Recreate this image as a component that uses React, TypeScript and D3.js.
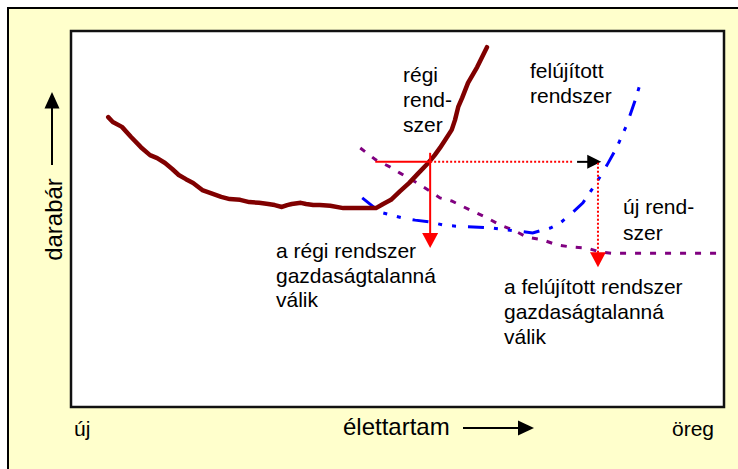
import * as d3 from 'd3'

// élettartam (x) / darabár (y), both on a 0..100 conceptual scale
const oldSystem: [number, number][] = [
  [5.7, 77.1], [6.4, 75.8], [7.8, 74.5], [9.2, 71.8], [10.7, 69.1], [12.1, 67.0],
  [13.2, 66.2], [14.4, 64.9], [15.5, 63.3], [16.5, 61.7], [17.6, 60.6], [18.7, 59.6],
  [20.1, 57.7], [21.4, 56.9], [23.0, 55.9], [24.3, 55.3], [25.9, 55.1], [27.3, 54.5],
  [28.8, 54.3], [30.2, 54.0], [31.2, 53.7], [32.3, 53.2], [33.1, 53.7], [33.8, 54.0],
  [35.2, 54.3], [36.0, 54.0], [37.1, 53.7], [38.1, 53.7], [39.7, 53.5], [41.7, 52.9],
  [43.5, 52.9], [46.7, 52.9], [47.8, 54.0], [49.0, 55.1], [50.4, 57.4], [51.8, 59.6],
  [53.1, 62.0], [54.7, 64.9], [55.7, 67.0], [56.5, 68.9], [57.3, 71.0], [58.3, 73.7],
  [58.8, 76.3], [59.3, 79.8], [59.9, 82.2], [60.8, 86.2], [62.2, 90.4], [63.7, 95.7],
]

const renewedSystem: [number, number][] = [
  [44.6, 55.6], [46.7, 52.7], [47.8, 51.6], [50.7, 50.3], [52.7, 49.7], [55.0, 49.2],
  [57.0, 48.4], [59.6, 48.0], [61.6, 47.9], [64.5, 47.6], [66.2, 47.2], [68.8, 46.7],
  [70.7, 46.3], [73.4, 47.6], [74.9, 48.9], [76.4, 51.1], [78.4, 54.3], [79.9, 58.2],
  [81.0, 61.2], [82.1, 64.4], [83.6, 69.1], [85.1, 75.0], [86.4, 81.6], [87.1, 85.6],
]

const newSystem: [number, number][] = [
  [44.3, 68.9], [46.7, 65.7], [48.9, 63.8], [50.4, 62.2], [53.0, 59.6], [54.7, 57.7],
  [56.5, 55.6], [58.3, 54.8], [61.1, 52.4], [63.7, 50.3], [65.7, 48.4], [67.7, 47.1],
  [69.8, 45.2], [72.3, 44.4], [74.4, 43.1], [76.4, 42.6], [79.2, 42.2], [81.0, 41.2],
  [82.8, 40.9], [86.7, 40.9], [100, 40.9],
]

// guide lines: where the old system becomes uneconomic, and where the renewed one does
const oldLimit: [number, number] = [55.0, 65.2]
const oldGuideStartX = 46.6
const oldDropY = 42.3
const oldGuideTopY = 67.6
const renewedShiftX = [77.5, 81.2]
const renewedLimitX = 80.7
const renewedDropY = 37.2

const W = 738
const H = 469
const plot = { left: 71, top: 31, right: 724, bottom: 407 }
const font = "Arial, 'Liberation Sans', sans-serif"

export default function App() {
  const x = d3.scaleLinear().domain([0, 100]).range([plot.left, plot.right])
  const y = d3.scaleLinear().domain([0, 100]).range([plot.bottom, plot.top])
  const line = d3.line<[number, number]>().x(d => x(d[0])).y(d => y(d[1]))

  const tri = (tx: number, ty: number, dir: 'down' | 'right', len = 15, half = 8) =>
    dir === 'down'
      ? `M${tx - half},${ty - len}L${tx + half},${ty - len}L${tx},${ty}Z`
      : `M${tx - len},${ty - half}L${tx - len},${ty + half}L${tx},${ty}Z`

  const ox = x(oldLimit[0])
  const oy = y(oldLimit[1])
  const rx = x(renewedLimitX)

  return (
    <svg width={W} height={H} style={{ position: 'fixed', left: 0, top: 0, background: '#fff' }}>
      <rect x={8} y={8} width={W} height={H} fill="#FFFFCC" stroke="#000" strokeWidth={2} />
      <rect x={plot.left} y={plot.top} width={plot.right - plot.left} height={plot.bottom - plot.top}
        fill="#fff" stroke="#111" strokeWidth={2.5} />

      {/* curves */}
      <path d={line(newSystem) ?? ''} fill="none" stroke="#800080" strokeWidth={3} strokeDasharray="6,9" />
      <path d={line(renewedSystem) ?? ''} fill="none" stroke="#0000FF" strokeWidth={3}
        strokeDasharray="16,10,4,10,4,12" />
      <path d={line(oldSystem) ?? ''} fill="none" stroke="#800000" strokeWidth={4.5}
        strokeLinejoin="round" strokeLinecap="round" />

      {/* old system limit */}
      <line x1={x(oldGuideStartX)} x2={ox} y1={oy} y2={oy} stroke="#FF0000" strokeWidth={2} />
      <line x1={ox} x2={ox} y1={y(oldGuideTopY)} y2={y(oldDropY) - 14} stroke="#FF0000" strokeWidth={2} />
      <path d={tri(ox, y(oldDropY), 'down')} fill="#FF0000" />

      {/* shift to renewed system */}
      <line x1={ox} x2={x(renewedShiftX[0]) - 5} y1={oy} y2={oy} stroke="#FF0000" strokeWidth={2} strokeDasharray="2,2" />
      <line x1={x(renewedShiftX[0])} x2={x(renewedShiftX[1]) - 12} y1={oy} y2={oy} stroke="#000" strokeWidth={2} />
      <path d={tri(x(renewedShiftX[1]), oy, 'right', 14, 7)} fill="#000" />
      <line x1={rx} x2={rx} y1={oy + 1} y2={y(renewedDropY) - 14} stroke="#FF0000" strokeWidth={2} strokeDasharray="2,2" />
      <path d={tri(rx, y(renewedDropY), 'down')} fill="#FF0000" />

      <g fontFamily={font} fontSize={21} fill="#000">
        <text x={403} y={82}>régi</text>
        <text x={403} y={107}>rend-</text>
        <text x={403} y={132}>szer</text>
        <text x={530} y={78}>felújított</text>
        <text x={530} y={103}>rendszer</text>
        <text x={623} y={214}>új rend-</text>
        <text x={623} y={240}>szer</text>
        <text x={276} y={258}>a régi rendszer</text>
        <text x={276} y={282.5}>gazdaságtalanná</text>
        <text x={276} y={307}>válik</text>
        <text x={504} y={293.5}>a felújított rendszer</text>
        <text x={504} y={318.5}>gazdaságtalanná</text>
        <text x={504} y={343.5}>válik</text>
        <text x={74} y={436}>új</text>
        <text x={672} y={436}>öreg</text>
      </g>

      {/* axis titles with arrows */}
      <text x={343} y={435} fontFamily={font} fontSize={24}>élettartam</text>
      <line x1={463} x2={520} y1={428} y2={428} stroke="#000" strokeWidth={2} />
      <path d={tri(534, 428, 'right', 16, 7.5)} fill="#000" />

      <text transform="translate(61.5,219.5) rotate(-90)" textAnchor="middle" fontFamily={font} fontSize={24}>darabár</text>
      <line x1={52} x2={52} y1={165} y2={106} stroke="#000" strokeWidth={2} />
      <path d={`M44.5,108.5L59.5,108.5L52,92Z`} fill="#000" />
    </svg>
  )
}
